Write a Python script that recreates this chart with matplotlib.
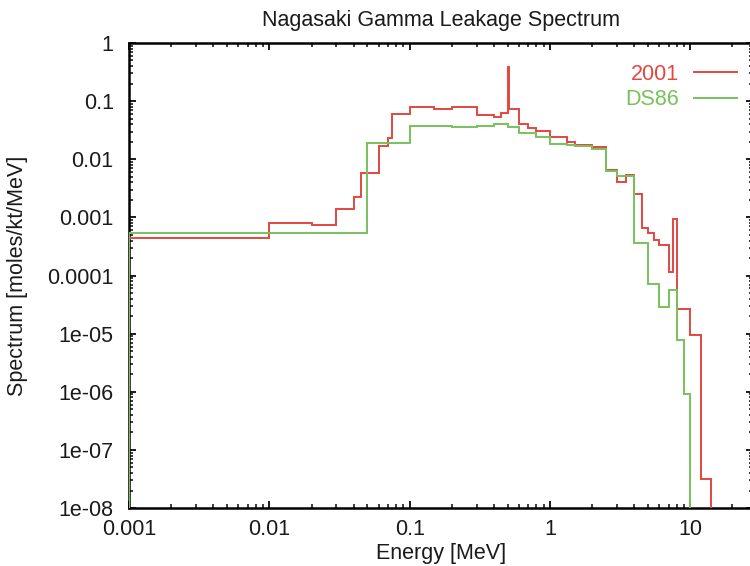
import matplotlib
matplotlib.use('Agg')
import matplotlib.pyplot as plt
from matplotlib.ticker import FixedLocator, LogLocator, NullFormatter
from matplotlib.lines import Line2D

plt.rcParams['font.family'] = ['Liberation Sans', 'DejaVu Sans']

# 2001 spectrum (bin edges in MeV, values in moles/kt/MeV)
edges_2001 = [0.001, 0.01, 0.02, 0.03, 0.04, 0.045, 0.06, 0.07, 0.075, 0.1,
              0.15, 0.2, 0.3, 0.4, 0.45, 0.505, 0.512, 0.6, 0.7, 0.8, 1.0,
              1.33, 1.5, 2.0, 2.5, 3.0, 3.5, 4.0, 4.5, 5.0, 5.5, 6.0, 7.0,
              7.5, 8.0, 10.0, 12.0, 14.0]
vals_2001 = [4.4e-4, 8.1e-4, 7.3e-4, 1.37e-3, 2.2e-3, 5.7e-3, 0.0169, 0.0229,
             0.059, 0.080, 0.073, 0.078, 0.058, 0.053, 0.063, 0.39, 0.074,
             0.040, 0.034, 0.031, 0.0238, 0.020, 0.0176, 0.016, 0.0065,
             0.0041, 0.0053, 0.0025, 6.5e-4, 5.3e-4, 4.1e-4, 3.4e-4, 1.16e-4,
             9.2e-4, 2.7e-5, 9.4e-6, 3.2e-8]

# DS86 spectrum
edges_ds86 = [0.001, 0.05, 0.1, 0.2, 0.3, 0.4, 0.5, 0.6, 0.8, 1.0, 1.33, 1.5,
              2.0, 2.5, 3.0, 4.0, 5.0, 6.0, 7.0, 8.0, 9.0, 10.0]
vals_ds86 = [5.4e-4, 0.0188, 0.038, 0.036, 0.037, 0.040, 0.036, 0.028, 0.0244,
             0.0183, 0.0178, 0.0169, 0.015, 0.0064, 0.0052, 3.6e-4, 7.1e-5,
             2.9e-5, 5.6e-5, 7.7e-6, 9.3e-7]

xticks = [0.001, 0.01, 0.1, 1, 10]
xtick_labels = ['0.001', '0.01', '0.1', '1', '10']
yticks = [1e-8, 1e-7, 1e-6, 1e-5, 1e-4, 1e-3, 1e-2, 1e-1, 1]
ytick_labels = ['1e-08', '1e-07', '1e-06', '1e-05', '0.0001', '0.001', '0.01', '0.1', '1']

red = '#e2483f'
green = '#78c25c'
fs = 15.5

fig = plt.figure(figsize=(7.5, 5.66), dpi=100)
ax = fig.add_axes([129 / 750, 58 / 566, 624 / 750, 465 / 566])

ax.stairs(vals_2001, edges_2001, baseline=1e-12, color=red, lw=1.4, zorder=3)
ax.stairs(vals_ds86, edges_ds86, baseline=1e-12, color=green, lw=1.4, zorder=3)

ax.set_xscale('log')
ax.set_yscale('log')
ax.set_xlim(0.001, 28)
ax.set_ylim(1e-8, 1)

ax.xaxis.set_major_locator(FixedLocator(xticks))
ax.set_xticklabels(xtick_labels)
ax.yaxis.set_major_locator(FixedLocator(yticks))
ax.set_yticklabels(ytick_labels)
ax.xaxis.set_minor_locator(LogLocator(base=10, subs=range(2, 10), numticks=20))
ax.yaxis.set_minor_locator(LogLocator(base=10, subs=range(2, 10), numticks=20))
ax.xaxis.set_minor_formatter(NullFormatter())
ax.yaxis.set_minor_formatter(NullFormatter())

ax.tick_params(which='both', direction='in', top=True, right=True, labelsize=fs, colors='#1a1a1a')
ax.tick_params(which='major', length=5, width=1.4)
ax.tick_params(which='minor', length=3, width=1.2)
ax.tick_params(axis='y', pad=11)
ax.tick_params(axis='x', pad=8)
for s in ax.spines.values():
    s.set_linewidth(1.8)

ax.set_title('Nagasaki Gamma Leakage Spectrum', fontsize=fs, pad=12, color='#1a1a1a')
ax.set_xlabel('Energy [MeV]', fontsize=fs, labelpad=2, color='#1a1a1a')
ax.set_ylabel('Spectrum [moles/kt/MeV]', fontsize=fs, labelpad=14, color='#1a1a1a')

handles = [Line2D([], [], color=red, lw=1.4), Line2D([], [], color=green, lw=1.4)]
leg = ax.legend(handles, ['2001', 'DS86'], loc='upper right', bbox_to_anchor=(0.974, 0.955),
                borderaxespad=0, borderpad=0, handlelength=2.0, handletextpad=0.7,
                labelspacing=0.2, markerfirst=False, frameon=False, fontsize=fs)
for t, c in zip(leg.get_texts(), [red, green]):
    t.set_color(c)

fig.savefig('out.png', dpi=100)
